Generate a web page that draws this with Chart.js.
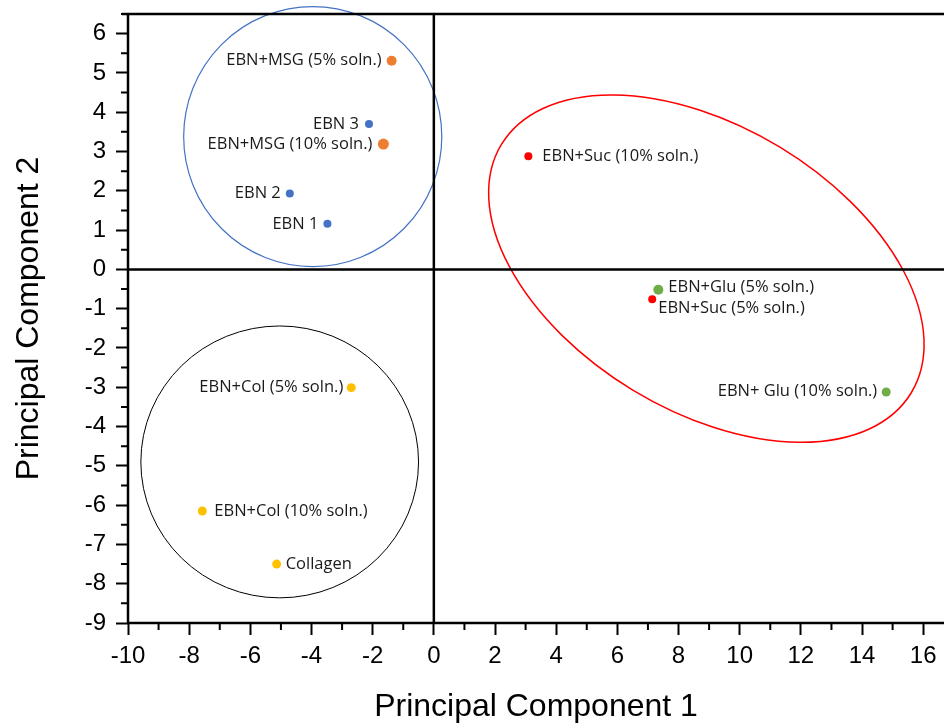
<!DOCTYPE html>
<html>
<head>
<meta charset="utf-8">
<script src="https://cdn.jsdelivr.net/npm/chart.js@4.4.1/dist/chart.umd.min.js"></script>
<style>
  html, body { margin: 0; padding: 0; background: #fff; }
</style>
</head>
<body>
<canvas id="pca" width="944" height="724"></canvas>
<script>
// PCA scores (PC1, PC2) per sample group
const ebnNames = ['EBN 1', 'EBN 2', 'EBN 3'];
const ebnPC1 = [-3.48, -4.71, -2.12];
const ebnPC2 = [1.16, 1.93, 3.70];

const msgNames = ['EBN+MSG (5% soln.)', 'EBN+MSG (10% soln.)'];
const msgPC1 = [-1.38, -1.65];
const msgPC2 = [5.31, 3.19];

const sucNames = ['EBN+Suc (10% soln.)', 'EBN+Suc (5% soln.)'];
const sucPC1 = [3.09, 7.14];
const sucPC2 = [2.88, -0.76];

const gluNames = ['EBN+Glu (5% soln.)', 'EBN+ Glu (10% soln.)'];
const gluPC1 = [7.34, 14.79];
const gluPC2 = [-0.52, -3.12];

const colNames = ['EBN+Col (5% soln.)', 'EBN+Col (10% soln.)', 'Collagen'];
const colPC1 = [-2.70, -7.57, -5.14];
const colPC2 = [-3.01, -6.15, -7.50];

const xTicks = [-10, -8, -6, -4, -2, 0, 2, 4, 6, 8, 10, 12, 14, 16];
const yTicks = [-9, -8, -7, -6, -5, -4, -3, -2, -1, 0, 1, 2, 3, 4, 5, 6];

// cluster outlines: centre, end of first semi-axis, end of second semi-axis
const clusterCentre = [[-3.96, 3.38], [-5.04, -4.90], [8.91, 0.02]];
const clusterAxisA = [[0.26, 3.38], [-0.50, -4.90], [15.61, -3.14]];
const clusterAxisB = [[-3.96, 6.69], [-5.04, -1.44], [11.32, 3.11]];
const clusterColor = ['#4472C4', '#000000', '#FF0000'];
const clusterWidth = [1.2, 1, 1.5];

// where each point label sits relative to its marker [dx, dy, align]
const labelPlace = {
  'EBN 1': [-9, 0, 'right'],
  'EBN 2': [-9, 0, 'right'],
  'EBN 3': [-10, 0, 'right'],
  'EBN+MSG (5% soln.)': [-10, 0, 'right'],
  'EBN+MSG (10% soln.)': [-11, 0, 'right'],
  'EBN+Suc (10% soln.)': [14, 0, 'left'],
  'EBN+Suc (5% soln.)': [6, 9, 'left'],
  'EBN+Glu (5% soln.)': [10, -3, 'left'],
  'EBN+ Glu (10% soln.)': [-9, -1, 'right'],
  'EBN+Col (5% soln.)': [-8, 0, 'right'],
  'EBN+Col (10% soln.)': [12, 0, 'left'],
  'Collagen': [9, 0, 'left']
};

const pts = (xs, ys) => xs.map((x, i) => ({ x: x, y: ys[i] }));

const groups = [
  { names: ebnNames, data: pts(ebnPC1, ebnPC2), color: '#4472C4', r: [4, 4, 4] },
  { names: msgNames, data: pts(msgPC1, msgPC2), color: '#ED7D31', r: [5, 5.5] },
  { names: sucNames, data: pts(sucPC1, sucPC2), color: '#FF0000', r: [4, 4] },
  { names: gluNames, data: pts(gluPC1, gluPC2), color: '#70AD47', r: [5, 4.5] },
  { names: colNames, data: pts(colPC1, colPC2), color: '#FFC000', r: [4.5, 4.5, 4.5] }
];

const decor = {
  id: 'decor',
  beforeDatasetsDraw(chart) {
    const { ctx, chartArea: a, scales: { x, y } } = chart;
    ctx.save();

    // cluster ellipses
    clusterCentre.forEach((c, i) => {
      const cx = x.getPixelForValue(c[0]), cy = y.getPixelForValue(c[1]);
      const ax = x.getPixelForValue(clusterAxisA[i][0]) - cx;
      const ay = y.getPixelForValue(clusterAxisA[i][1]) - cy;
      const bx = x.getPixelForValue(clusterAxisB[i][0]) - cx;
      const by = y.getPixelForValue(clusterAxisB[i][1]) - cy;
      ctx.beginPath();
      ctx.ellipse(cx, cy, Math.hypot(ax, ay), Math.hypot(bx, by), Math.atan2(ay, ax), 0, Math.PI * 2);
      ctx.strokeStyle = clusterColor[i];
      ctx.lineWidth = clusterWidth[i];
      ctx.stroke();
    });

    // zero lines and frame
    ctx.strokeStyle = '#000';
    ctx.lineWidth = 2.5;
    const x0 = x.getPixelForValue(0), y0 = y.getPixelForValue(0);
    ctx.beginPath();
    ctx.moveTo(x0, a.top); ctx.lineTo(x0, a.bottom);
    ctx.moveTo(a.left, y0); ctx.lineTo(chart.width, y0);
    ctx.moveTo(a.left - 6, a.top); ctx.lineTo(chart.width, a.top);
    ctx.moveTo(a.left, a.top); ctx.lineTo(a.left, a.bottom + 1);
    ctx.moveTo(a.left, a.bottom); ctx.lineTo(chart.width, a.bottom);
    ctx.stroke();

    // minor ticks
    ctx.lineWidth = 2;
    ctx.beginPath();
    for (let v = x.min + 1; v < x.max; v += 2) {
      const px = x.getPixelForValue(v);
      ctx.moveTo(px, a.bottom); ctx.lineTo(px, a.bottom + 7);
    }
    for (let v = y.min + 0.5; v <= y.max; v += 1) {
      const py = y.getPixelForValue(v);
      ctx.moveTo(a.left, py); ctx.lineTo(a.left - 7, py);
    }
    ctx.stroke();
    ctx.restore();
  },
  afterDatasetsDraw(chart) {
    const { ctx } = chart;
    ctx.save();
    ctx.font = '16.5px "Open Sans"';
    ctx.fillStyle = '#1a1a1a';
    ctx.textBaseline = 'middle';
    chart.data.datasets.forEach((ds, di) => {
      chart.getDatasetMeta(di).data.forEach((pt, i) => {
        const name = ds.names[i];
        const p = labelPlace[name];
        ctx.textAlign = p[2];
        ctx.fillText(name, pt.x + p[0], pt.y + p[1]);
      });
    });
    ctx.restore();
  }
};

new Chart(document.getElementById('pca'), {
  type: 'scatter',
  data: {
    datasets: groups.map(g => ({
      data: g.data,
      names: g.names,
      backgroundColor: g.color,
      borderWidth: 0,
      pointRadius: g.r,
      pointHoverRadius: g.r
    }))
  },
  options: {
    responsive: false,
    animation: false,
    layout: { autoPadding: false, padding: { top: 14, right: 0, left: 0, bottom: 0 } },
    plugins: { legend: { display: false }, tooltip: { enabled: false } },
    scales: {
      x: {
        type: 'linear',
        min: -10,
        max: 16.68,
        afterBuildTicks: s => { s.ticks = xTicks.map(v => ({ value: v })); },
        afterFit: s => { s.height = 101; s.paddingLeft = 0; s.paddingRight = 0; },
        border: { display: false },
        grid: { drawOnChartArea: false, drawTicks: true, tickLength: 12, tickWidth: 2, tickColor: '#000' },
        ticks: {
          padding: 7,
          color: '#000',
          maxRotation: 0,
          font: { family: '"Liberation Sans", Arial, sans-serif', size: 24 },
          callback: v => String(v)
        },
        title: {
          display: true,
          text: 'Principal Component 1',
          color: '#000',
          padding: { top: 0, bottom: 1 },
          font: { family: '"Liberation Sans", Arial, sans-serif', size: 32, lineHeight: 1 }
        }
      },
      y: {
        type: 'linear',
        min: -9,
        max: 6.5,
        afterBuildTicks: s => { s.ticks = yTicks.map(v => ({ value: v })); },
        afterFit: s => { s.width = 128; s.paddingTop = 0; s.paddingBottom = 0; },
        border: { display: false },
        grid: { drawOnChartArea: false, drawTicks: true, tickLength: 12, tickWidth: 2, tickColor: '#000' },
        ticks: {
          padding: 10,
          color: '#000',
          font: { family: '"Liberation Sans", Arial, sans-serif', size: 24 },
          callback: v => String(v)
        },
        title: {
          display: true,
          text: 'Principal Component 2',
          color: '#000',
          padding: { top: 13, bottom: 0 },
          font: { family: '"Liberation Sans", Arial, sans-serif', size: 32, lineHeight: 1 }
        }
      }
    }
  },
  plugins: [decor]
});
</script>
</body>
</html>
